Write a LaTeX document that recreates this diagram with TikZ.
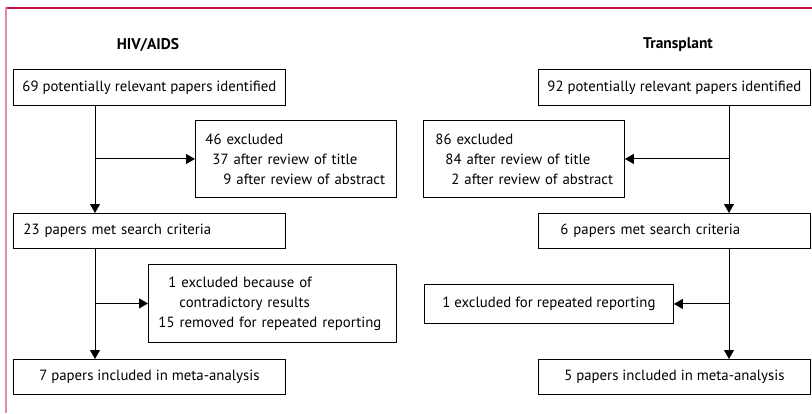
\documentclass[tikz,border=0pt]{standalone}
\usepackage{fontspec}
\setmainfont{PT Sans}
\usetikzlibrary{arrows.meta}
\definecolor{framered}{HTML}{C8103E}
\definecolor{framepink}{HTML}{E08CA6}
\newcommand{\nohyph}{\hyphenpenalty=10000\relax\exhyphenpenalty=10000\relax}
\begin{document}
\begin{tikzpicture}[x=1pt,y=-1pt,
  box/.style={draw, line width=0.9pt, anchor=north west, inner ysep=0pt,
    font=\fontsize{14.8}{20}\selectfont\nohyph},
  ttl/.style={font=\bfseries\fontsize{15.5}{18}\selectfont},
  arr/.style={line width=1pt, -{Triangle[length=9pt,width=10pt]}}]
\useasboundingbox (0,0) rectangle (812,413);
\draw[framered, line width=1.6pt] (5.2,8) -- (812,8);
\draw[framepink, line width=2pt] (6,7.2) -- (6,413);
% titles
\node[ttl] (hivt) at (148,45) {HIV/AIDS};
\node[ttl] (trt) at (678,45) {Transplant};
% HIV/AIDS column
\node[box, minimum width=272pt, minimum height=36pt] (h1) at (13,69) {69 potentially relevant papers identified};
\node[box, minimum height=77pt, inner xsep=8pt, text width=185pt, align=left] (he1) at (195,120)
  {\hspace*{2pt}46 excluded\\\hspace*{9pt}37 after review of title\\\hspace*{20pt}9 after review of abstract};
\node[box, minimum height=35pt, inner xsep=10pt, text width=252pt, align=left] (h2) at (13,213) {23 papers met search criteria};
\node[box, minimum height=78pt, inner xsep=8pt, text width=232pt, align=left] (he2) at (148,264)
  {\hspace*{12pt}1 excluded because of\\\hspace*{23pt}contradictory results\\\hspace*{2pt}15 removed for repeated reporting};
\node[box, minimum width=272pt, minimum height=35pt] (h3) at (13,359) {7 papers included in meta-analysis};
% Transplant column
\node[box, minimum width=272pt, minimum height=36pt] (t1) at (538,69) {92 potentially relevant papers identified};
\node[box, minimum height=77pt, inner xsep=8pt, text width=185pt, align=left] (te1) at (423,120)
  {\hspace*{4pt}86 excluded\\\hspace*{14pt}84 after review of title\\\hspace*{20pt}2 after review of abstract};
\node[box, minimum height=35pt, inner xsep=22pt, text width=228pt, align=left] (t2) at (538,213) {6 papers met search criteria};
\node[box, minimum width=249pt, minimum height=39pt] (te2) at (424,284) {1 excluded for repeated reporting};
\node[box, minimum width=272pt, minimum height=35pt] (t3) at (538,359) {5 papers included in meta-analysis};
% connectors
\coordinate (hx) at (95,0);
\coordinate (tx) at (729,0);
\draw[arr] (h1.south -| hx) -- (h2.north -| hx);
\draw[arr] (hx |- he1.west) -- (he1.west);
\draw[arr] (h2.south -| hx) -- (h3.north -| hx);
\draw[arr] (hx |- he2.west) -- (he2.west);
\draw[arr] (t1.south -| tx) -- (t2.north -| tx);
\draw[arr] (tx |- te1.east) -- (te1.east);
\draw[arr] (t2.south -| tx) -- (t3.north -| tx);
\draw[arr] (tx |- te2.east) -- (te2.east);
\end{tikzpicture}
\end{document}
